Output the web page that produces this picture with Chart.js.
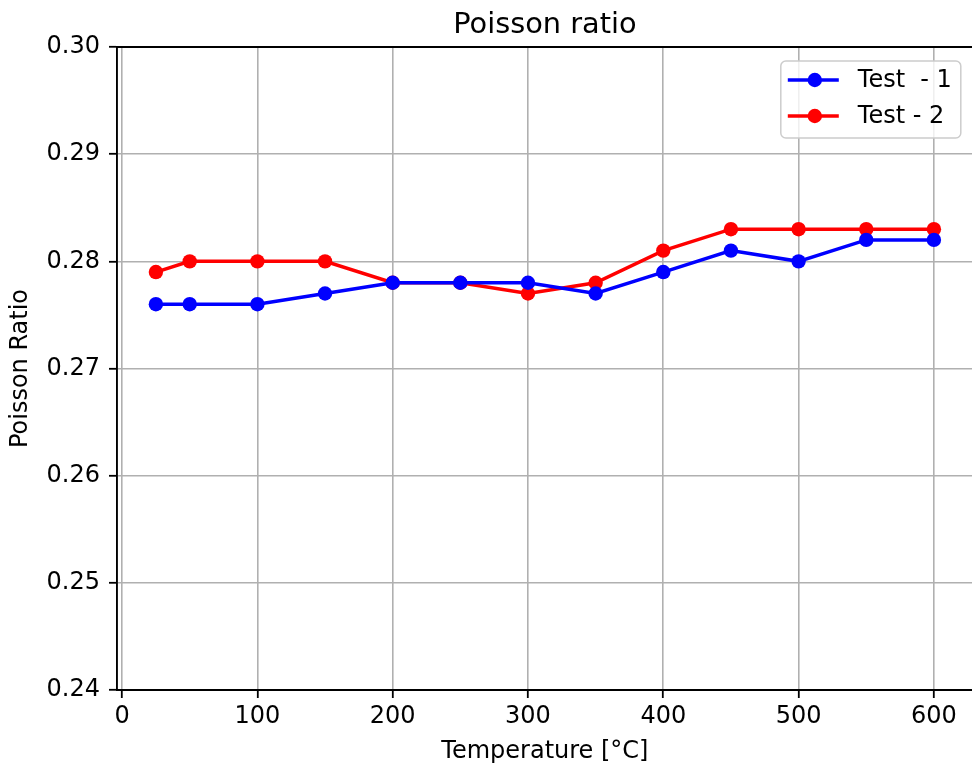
<!DOCTYPE html>
<html>
<head>
<meta charset="utf-8">
<script src="https://cdn.jsdelivr.net/npm/chart.js@4/dist/chart.umd.min.js"></script>
<style>
html, body { margin: 0; padding: 0; overflow: hidden; background: #fff; }
canvas { display: block; }
</style>
</head>
<body>
<canvas id="chart" width="980" height="769"></canvas>
<script>
"use strict";
const temps = [25, 50, 100, 150, 200, 250, 300, 350, 400, 450, 500, 550, 600];
const test1 = [0.276, 0.276, 0.276, 0.277, 0.278, 0.278, 0.278, 0.277, 0.279, 0.281, 0.280, 0.282, 0.282];
const test2 = [0.279, 0.280, 0.280, 0.280, 0.278, 0.278, 0.277, 0.278, 0.281, 0.283, 0.283, 0.283, 0.283];
const seriesNames = ['Test  - 1', 'Test - 2'];
const seriesColors = ['#0000ff', '#ff0000'];
const xTicks = [0, 100, 200, 300, 400, 500, 600];
const yTicks = [0.24, 0.25, 0.26, 0.27, 0.28, 0.29, 0.30];
const chartTitle = 'Poisson ratio';
const xTitle = 'Temperature [°C]';
const yTitle = 'Poisson Ratio';

const FONT = '"DejaVu Sans", sans-serif';
const toPoints = vals => vals.map((v, i) => ({ x: temps[i], y: v }));

// title, top spine and matplotlib-style legend
const decorations = {
    id: 'decorations',
    afterDraw(chart) {
        const { ctx, chartArea: a } = chart;
        ctx.save();
        // top spine
        ctx.strokeStyle = '#000';
        ctx.lineWidth = 1.9;
        ctx.beginPath();
        ctx.moveTo(a.left, a.top);
        ctx.lineTo(a.right, a.top);
        ctx.stroke();

        // title
        ctx.fillStyle = '#000';
        ctx.font = '28.8px ' + FONT;
        ctx.textAlign = 'center';
        ctx.textBaseline = 'alphabetic';
        ctx.fillText(chartTitle, (a.left + a.right) / 2, 33);

        // legend
        const bx = a.right - 192, by = a.top + 14, bw = 180, bh = 77;
        ctx.fillStyle = 'rgba(255,255,255,0.8)';
        ctx.strokeStyle = '#cccccc';
        ctx.lineWidth = 1.5;
        ctx.beginPath();
        ctx.roundRect(bx, by, bw, bh, 5);
        ctx.fill();
        ctx.stroke();
        ctx.font = '24px ' + FONT;
        ctx.textAlign = 'left';
        ctx.textBaseline = 'middle';
        seriesNames.forEach((name, i) => {
            const y = by + 19 + i * 36;
            ctx.strokeStyle = seriesColors[i];
            ctx.fillStyle = seriesColors[i];
            ctx.lineWidth = 3.5;
            ctx.beginPath();
            ctx.moveTo(bx + 7, y);
            ctx.lineTo(bx + 58, y);
            ctx.stroke();
            ctx.beginPath();
            ctx.arc(bx + 34, y, 7.2, 0, Math.PI * 2);
            ctx.fill();
            ctx.fillStyle = '#000';
            ctx.fillText(name, bx + 77, y + 1);
        });
        ctx.restore();
    }
};

new Chart(document.getElementById('chart'), {
    type: 'line',
    data: {
        datasets: [test1, test2].map((vals, i) => ({
            label: seriesNames[i],
            data: toPoints(vals),
            borderColor: seriesColors[i],
            backgroundColor: seriesColors[i],
            borderWidth: 3.5,
            pointRadius: 7.2,
            pointHoverRadius: 7.2,
            pointBorderWidth: 0,
            tension: 0,
            fill: false
        }))
    },
    options: {
        responsive: false,
        animation: false,
        layout: { padding: { top: 47, right: 3, left: 0, bottom: 0 } },
        plugins: {
            legend: { display: false },
            title: { display: false },
            tooltip: { enabled: false }
        },
        scales: {
            x: {
                type: 'linear',
                min: -3.75,
                max: 628.75,
                afterBuildTicks: s => { s.ticks = xTicks.map(v => ({ value: v })); },
                afterFit: s => { s.height = 79; },
                grid: { color: '#b0b0b0', lineWidth: 1.6, tickColor: '#000', tickWidth: 1.8, tickLength: 8 },
                border: { color: '#000', width: 1.9 },
                ticks: { color: '#000', font: { family: FONT, size: 24 }, padding: 4, maxRotation: 0 },
                title: { display: true, text: xTitle, color: '#000', font: { family: FONT, size: 24 }, padding: { top: 2, bottom: 3 } }
            },
            y: {
                min: 0.24,
                max: 0.30,
                afterBuildTicks: s => { s.ticks = yTicks.map(v => ({ value: v })); },
                afterFit: s => { s.width = 117; },
                grid: { color: '#b0b0b0', lineWidth: 1.6, tickColor: '#000', tickWidth: 1.8, tickLength: 8 },
                border: { color: '#000', width: 1.9 },
                ticks: { color: '#000', font: { family: FONT, size: 24 }, padding: 9, callback: v => v.toFixed(2) },
                title: { display: true, text: yTitle, color: '#000', font: { family: FONT, size: 24 }, padding: { top: 6, bottom: 0 } }
            }
        }
    },
    plugins: [decorations]
});
</script>
</body>
</html>
